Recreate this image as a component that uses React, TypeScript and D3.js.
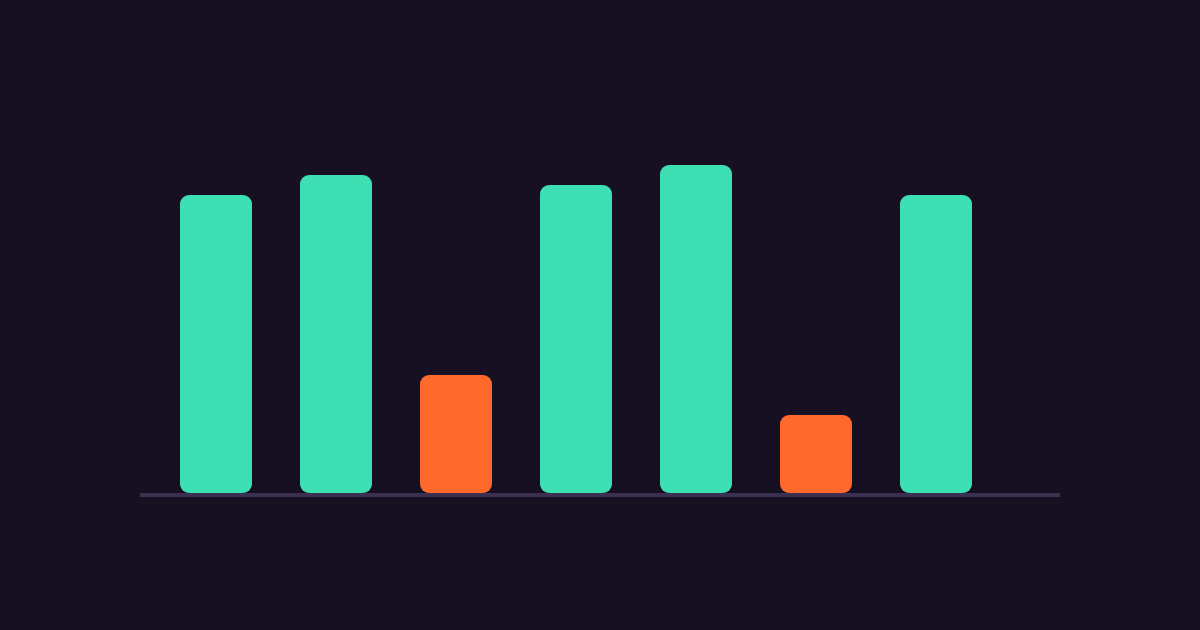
import React from 'react';
import * as d3 from 'd3';

const categories = ['A', 'B', 'C', 'D', 'E', 'F', 'G'];
const values = [74.5, 79.5, 29.5, 77, 82, 19.5, 74.5];
const flagged = [false, false, true, false, false, true, false];

const W = 1200;
const H = 630;

const App: React.FC = () => {
  const x = d3.scaleBand<string>()
    .domain(categories)
    .range([156, 996])
    .paddingInner(0.4)
    .paddingOuter(0.2);

  const y = d3.scaleLinear().domain([0, 100]).range([493, 93]);

  return (
    <svg width={W} height={H} style={{ position: 'fixed', left: 0, top: 0, display: 'block' }}>
      <rect width={W} height={H} fill="#171022" />
      {categories.map((c, i) => (
        <rect
          key={c}
          x={x(c)}
          y={y(values[i])}
          width={x.bandwidth()}
          height={y(0) - y(values[i])}
          rx={9}
          fill={flagged[i] ? '#ff6a2c' : '#3ee0b3'}
        />
      ))}
      <rect x={140} y={y(0)} width={920} height={4} fill="#3b3052" />
    </svg>
  );
};

export default App;
